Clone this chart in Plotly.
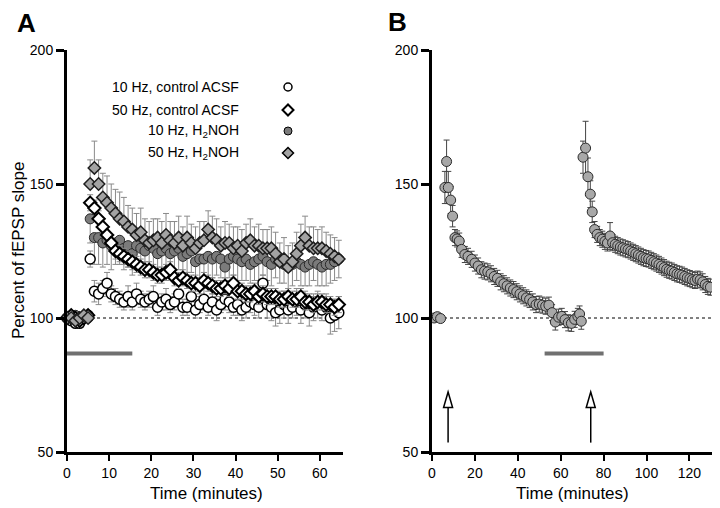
import numpy as np
import plotly.graph_objects as go

# ---------------- DATA ----------------
# Panel A : time (minutes)
t_base_A = [0, 1, 2, 3, 4, 5]
t_post_A = list(np.arange(5.5, 65.0, 1.0))  # 60 samples, 1 per minute

# 10 Hz, control ACSF (open circles)
base_10c = [100, 99, 98, 98, 100, 101]
post_10c = [122, 110, 109, 111, 113, 109, 108, 107, 106, 108,
            106, 109, 107, 106, 107, 108, 104, 106, 107, 105,
            106, 109, 104, 104, 108, 103, 105, 107, 104, 106,
            103, 105, 107, 106, 104, 105, 103, 104, 106, 105,
            104, 113, 105, 104, 102, 103, 105, 103, 104, 106,
            103, 105, 102, 104, 105, 103, 104, 100, 101, 102]
err_10c = [1, 1, 1, 1, 1, 1,
           3, 4, 4, 3, 4, 3, 3, 3, 3, 4,
           3, 4, 3, 3, 3, 4, 3, 3, 4, 3,
           3, 4, 3, 3, 4, 3, 3, 4, 3, 3,
           4, 3, 4, 4, 3, 4, 4, 4, 4, 4,
           4, 3, 5, 5, 5, 5, 5, 5, 4, 5,
           5, 5, 5, 5, 5, 4, 5, 6, 6, 6]

# 50 Hz, control ACSF (open diamonds)
base_50c = [100, 101, 100, 99, 100, 101]
post_50c = [143, 141, 137, 134, 131, 128, 125, 124, 123, 122,
            121, 120, 119, 118, 118, 117, 116, 116, 117, 118,
            115, 114, 115, 114, 113, 113, 112, 114, 113, 112,
            111, 111, 112, 111, 113, 110, 110, 109, 109, 110,
            108, 109, 108, 108, 108, 107, 107, 108, 107, 107,
            108, 106, 106, 105, 106, 106, 105, 105, 104, 105]
err_50c = [1, 1, 1, 1, 1, 1] + [3] * 60

# 10 Hz, H2NOH (dark grey circles)
base_10h = [100, 100, 101, 99, 100, 100]
post_10h = [137, 130, 130, 128, 129, 127, 128, 129, 126, 127,
            124, 127, 126, 125, 127, 126, 124, 125, 126, 124,
            125, 126, 123, 124, 125, 121, 122, 122, 123, 122,
            123, 122, 119, 122, 123, 122, 121, 122, 120, 121,
            122, 123, 121, 120, 122, 121, 120, 119, 120, 121,
            120, 119, 120, 121, 120, 119, 120, 120, 121, 122]
err_10h_down = [1, 1, 1, 1, 1, 1,
                9, 10, 10, 9, 9, 9, 8, 9, 8, 8,
                8, 8, 8, 7, 8, 8, 7, 8, 8, 7,
                7, 8, 7, 7, 8, 7, 7, 7, 8, 7,
                7, 7, 8, 7, 7, 8, 7, 8, 7, 7,
                8, 7, 7, 8, 7, 8, 7, 8, 8, 7,
                8, 7, 8, 7, 8, 7, 8, 7, 7, 7]

# 50 Hz, H2NOH (light grey diamonds)
base_50h = [100, 100, 99, 100, 101, 100]
post_50h = [150, 156, 150, 145, 143, 141, 139, 137, 136, 134,
            133, 131, 132, 129, 128, 129, 130, 128, 131, 129,
            128, 130, 127, 130, 128, 126, 128, 129, 133, 130,
            129, 127, 128, 128, 126, 127, 125, 128, 129, 127,
            127, 126, 126, 126, 124, 121, 122, 119, 121, 124,
            127, 130, 127, 126, 126, 126, 125, 124, 123, 122]
err_50h_up = [1, 1, 1, 1, 1, 1,
              9, 10, 9, 9, 10, 9, 9, 10, 9, 8,
              8, 8, 9, 8, 8, 8, 7, 8, 8, 7,
              8, 8, 7, 8, 7, 8, 8, 7, 7, 8,
              8, 7, 8, 7, 8, 7, 8, 7, 8, 7,
              8, 7, 7, 8, 8, 7, 8, 8, 7, 8,
              8, 8, 7, 8, 7, 8, 7, 7, 7, 7]

# Panel B : time (minutes) and % fEPSP slope, 10 Hz H2NOH wash-in/out
t_B = [1, 2.5, 4,
       6, 6.8, 7.6, 8.7, 9.6, 10.7, 11.7, 12.7, 13.8, 15.3, 16.8, 18.5,
       20, 21.5, 23, 24.5, 26, 27.5, 29, 30.5, 32, 33.5, 35, 36.5, 38,
       39.5, 41, 42.5, 44, 45.5, 47, 48.5, 50, 51.5, 53, 54.5, 56, 57.5,
       59, 60.5, 62, 63.5, 65, 66.5, 68, 68.8, 69.6,
       70.4, 71.6, 72.7, 73.8, 74.7, 75.8, 77, 78.2, 79.4, 80.6, 81.8,
       83, 84.2, 85.4, 86.6, 87.8, 89, 90.2, 91.4, 92.6, 93.8, 95, 96.2,
       97.4, 98.6, 99.8, 101, 102.2, 103.4, 104.6, 105.8, 107, 108.2,
       109.4, 110.6, 111.8, 113, 114.2, 115.4, 116.6, 117.8, 119, 120.2,
       121.4, 122.6, 123.8, 125, 126.2, 127.4, 128.6, 129.8]
v_B = [100, 100.5, 99.8,
       148.7, 158.4, 148.7, 144, 138, 130, 129.5, 128.7, 125.6, 123.7, 123, 121.9,
       120.5, 119.4, 118, 117.5, 117.2, 116.5, 115.5, 114.8, 113.5, 112.8, 112, 111.2, 110.6,
       109.8, 109, 108.3, 107.5, 106.9, 106, 105, 105.2, 104.8, 104.4, 104.8, 102, 98.5,
       100.3, 100.6, 99.4, 98.2, 98, 99.5, 100.6, 101.5, 98.8,
       160, 163.4, 152.7, 146.2, 139.6, 133, 131.2, 130, 129.4, 128.6, 128,
       130.6, 128.1, 127.5, 127, 126.5, 126.2, 125.8, 125.5, 125, 124.5, 124, 123.5,
       123, 122.5, 122.2, 122, 121.5, 121, 120.5, 120, 119.4, 118.8,
       118.2, 117.8, 117.5, 117, 116.5, 116.3, 116, 115.5, 115, 114.7,
       114.3, 114, 114.5, 114.2, 113.5, 112.5, 111.8, 111.5]
e_B = [1, 1, 1,
       6, 8, 6, 5, 4, 3, 3, 3, 3, 3, 3, 3,
       3, 3, 3, 3, 3, 3, 3, 3, 3, 3, 3, 3, 3,
       3, 3, 3, 3, 3, 3, 3, 3, 3, 3, 3, 3, 3,
       3, 3, 3, 3, 3, 3, 3, 3, 3,
       6, 10, 7, 5, 4, 3, 3, 3, 3, 3, 3,
       5, 3, 3, 3, 3, 3, 3, 3, 3, 3, 3, 3,
       3, 3, 3, 3, 3, 3, 3, 3, 3, 3,
       3, 3, 3, 3, 3, 3, 3, 3, 3, 3,
       3, 3, 3, 3, 3, 3, 3, 3, 3]

# annotations / protocol
drug_A = [0, 15.5]        # H2NOH application, panel A
drug_B = [52.5, 80]       # H2NOH application, panel B
drug_level = 86.8
stim_B = [7.5, 74]        # tetanus arrows, panel B
legend_labels = ["10 Hz, control ACSF", "50 Hz, control ACSF",
                 "10 Hz, H<sub>2</sub>NOH", "50 Hz, H<sub>2</sub>NOH"]

# ---------------- FIGURE ----------------
OFF = 8                     # default page body margin
W, H = 720 - OFF, 508 - OFF
FONT = "Liberation Sans, Arial, Helvetica, sans-serif"
fig = go.Figure()

def px_x(p):
    return (p - OFF) / W

def px_y(p):
    return 1 - (p - OFF) / H

ERR_GREY = "#8a8a8a"

tA = t_base_A + t_post_A

fig.add_trace(go.Scatter(
    x=tA, y=base_10h + post_10h, mode="markers", cliponaxis=False,
    marker=dict(symbol="circle", size=10, color="#7b7b7b", line=dict(color="#2a2a2a", width=1)),
    error_y=dict(type="data", symmetric=False, array=[0] * len(tA), arrayminus=err_10h_down,
                 color=ERR_GREY, thickness=1, width=3),
    xaxis="x", yaxis="y", showlegend=False))
fig.add_trace(go.Scatter(
    x=tA, y=base_10c + post_10c, mode="markers", cliponaxis=False,
    marker=dict(symbol="circle", size=10, color="white", line=dict(color="black", width=1.5)),
    error_y=dict(type="data", array=err_10c, color=ERR_GREY, thickness=1, width=3),
    xaxis="x", yaxis="y", showlegend=False))
fig.add_trace(go.Scatter(
    x=tA, y=base_50c + post_50c, mode="markers", cliponaxis=False,
    marker=dict(symbol="diamond", size=9.5, color="white", line=dict(color="black", width=2)),
    error_y=dict(type="data", array=err_50c, color=ERR_GREY, thickness=1, width=3),
    xaxis="x", yaxis="y", showlegend=False))
fig.add_trace(go.Scatter(
    x=tA, y=base_50h + post_50h, mode="markers", cliponaxis=False,
    marker=dict(symbol="diamond", size=9.5, color="#a3a3a3", line=dict(color="#1e1e1e", width=1.5)),
    error_y=dict(type="data", symmetric=False, array=err_50h_up, arrayminus=[0] * len(tA),
                 color=ERR_GREY, thickness=1, width=3),
    xaxis="x", yaxis="y", showlegend=False))

fig.add_trace(go.Scatter(
    x=t_B, y=v_B, mode="markers", cliponaxis=False,
    marker=dict(symbol="circle", size=10, color="#a8a8a8", line=dict(color="#2a2a2a", width=1)),
    error_y=dict(type="data", array=e_B, color="#444444", thickness=1, width=3),
    xaxis="x2", yaxis="y2", showlegend=False))

axis_common = dict(showline=True, linecolor="black", linewidth=3, ticks="outside",
                   tickcolor="black", showgrid=False, zeroline=False, automargin=False,
                   tickfont=dict(family=FONT, size=14, color="black"))
ydom = [px_y(452), px_y(50)]

fig.update_layout(
    width=W, height=H, margin=dict(l=0, r=0, t=0, b=0, autoexpand=False),
    paper_bgcolor="white", plot_bgcolor="white",
    xaxis=dict(domain=[px_x(67), px_x(343)], range=[0, 65.5], tickvals=[0, 10, 20, 30, 40, 50, 60],
               ticklen=6, tickwidth=2, anchor="y", **axis_common),
    yaxis=dict(domain=ydom, range=[50, 200], tickvals=[50, 100, 150, 200],
               ticklen=8, tickwidth=3, anchor="x", **axis_common),
    xaxis2=dict(domain=[px_x(432), px_x(713)], range=[0, 131], tickvals=[0, 20, 40, 60, 80, 100, 120],
                ticklen=6, tickwidth=2, anchor="y2", **axis_common),
    yaxis2=dict(domain=ydom, range=[50, 200], tickvals=[50, 100, 150, 200],
                ticklen=8, tickwidth=3, anchor="x2", **axis_common),
)

shapes = []
# baseline dotted lines
shapes.append(dict(type="line", xref="x", yref="y", x0=0, x1=65.5, y0=100, y1=100,
                   line=dict(color="black", width=1, dash="dot"), layer="below"))
shapes.append(dict(type="line", xref="x2", yref="y2", x0=0, x1=131, y0=100, y1=100,
                   line=dict(color="black", width=1, dash="dot"), layer="below"))
# drug bars
shapes.append(dict(type="line", xref="x", yref="y", x0=drug_A[0], x1=drug_A[1], y0=drug_level, y1=drug_level,
                   line=dict(color="#707070", width=4)))
shapes.append(dict(type="line", xref="x2", yref="y2", x0=drug_B[0], x1=drug_B[1], y0=drug_level, y1=drug_level,
                   line=dict(color="#707070", width=4)))
# arrows (open heads)
for s in stim_B:
    shapes.append(dict(type="line", xref="x2", yref="y2", x0=s, x1=s, y0=53.5, y1=67,
                       line=dict(color="black", width=1.5)))
    shapes.append(dict(type="path", xref="x2", yref="y2",
                       path=f"M {s},72.4 L {s - 2.1},66.6 L {s + 2.1},66.6 Z",
                       fillcolor="white", line=dict(color="black", width=1.5)))
# legend symbols
leg_rows = [87, 110, 131, 153]
leg_x = px_x(288)
sym_styles = [("circle", "white", 1.5), ("diamond", "white", 2), ("circle", "#7b7b7b", 1), ("diamond", "#a3a3a3", 1.5)]
for yy, (sym, fill, lw) in zip(leg_rows, sym_styles):
    common = dict(xref="paper", yref="paper", xsizemode="pixel", ysizemode="pixel",
                  xanchor=leg_x, yanchor=px_y(yy), fillcolor=fill, line=dict(color="black", width=lw))
    if sym == "circle":
        shapes.append(dict(type="circle", x0=-4, x1=4, y0=-4, y1=4, **common))
    else:
        shapes.append(dict(type="path", path="M 0,-5.5 L 5.5,0 L 0,5.5 L -5.5,0 Z", **common))
fig.update_layout(shapes=shapes)

ann = []
for yy, lab in zip(leg_rows, legend_labels):
    ann.append(dict(xref="paper", yref="paper", x=px_x(241), y=px_y(yy), xanchor="right", yanchor="middle",
                    text=lab, showarrow=False, font=dict(family=FONT, size=14, color="black")))
center = dict(xanchor="center", yanchor="middle", showarrow=False)
ann.append(dict(xref="paper", yref="paper", x=px_x(26), y=px_y(23), text="<b>A</b>",
                font=dict(family=FONT, size=26, color="black"), **center))
ann.append(dict(xref="paper", yref="paper", x=px_x(398), y=px_y(22), text="<b>B</b>",
                font=dict(family=FONT, size=26, color="black"), **center))
ann.append(dict(xref="paper", yref="paper", x=px_x(18), y=px_y(251), text="Percent of fEPSP slope",
                textangle=-90, font=dict(family=FONT, size=17, color="black"), **center))
ann.append(dict(xref="paper", yref="paper", x=px_x(206), y=px_y(493), text="Time (minutes)",
                font=dict(family=FONT, size=17, color="black"), **center))
ann.append(dict(xref="paper", yref="paper", x=px_x(572), y=px_y(493), text="Time (minutes)",
                font=dict(family=FONT, size=17, color="black"), **center))
fig.update_layout(annotations=ann)

fig.write_html("out.html")
